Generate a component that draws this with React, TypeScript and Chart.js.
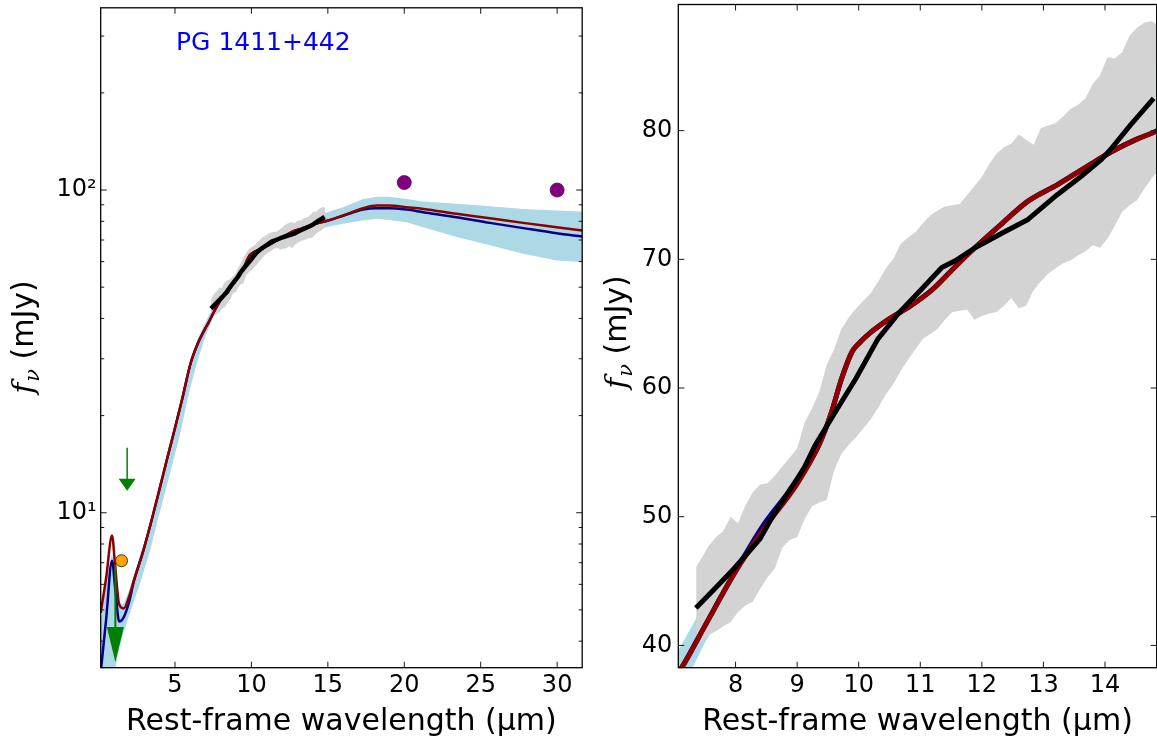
import React, { useEffect, useRef } from 'react';
import { Chart, registerables } from 'chart.js';

Chart.register(...registerables);

const FAMILY = "'DejaVu Sans', 'Liberation Sans', sans-serif";
const SERIF = "'DejaVu Serif', serif";

// ---------------- data ----------------
const objectName = 'PG 1411+442';
const xTitle = 'Rest-frame wavelength (μm)';

// best-fit model (dark red) and alternative model (dark blue)
const modelX = [0.14, 0.5, 0.88, 1.1, 1.35, 1.65, 2.0, 2.3, 2.9, 3.5, 4.0, 4.5, 5.0, 5.5, 6.0, 6.5, 7.0, 7.15, 7.5, 7.98, 8.46, 9.0, 9.35, 9.55, 9.72, 9.89, 10.01, 10.19, 10.49, 10.84, 11.2, 11.5, 11.86, 12.34, 12.75, 13.23, 13.71, 14.12, 14.5, 14.85, 16.0, 17.3, 18.2, 19.0, 20.15, 21.24, 23.42, 25.6, 27.78, 29.96, 31.64];
const modelRed = [4.9, 6.3, 8.5, 6.7, 5.2, 5.05, 5.5, 6.15, 7.55, 9.6, 11.9, 14.8, 18.3, 22.8, 28.8, 33.5, 37.4, 38.47, 41.5, 45.6, 49.07, 52.56, 55.53, 58.0, 60.7, 62.8, 63.5, 64.3, 65.35, 66.38, 67.67, 69.1, 70.78, 72.84, 74.52, 75.81, 77.23, 78.4, 79.3, 80.0, 83.4, 87.8, 89.5, 89.5, 88.4, 87.4, 84.4, 81.8, 79.1, 76.7, 74.9];
const modelBlue = [3.2, 4.7, 7.1, 5.75, 4.6, 4.75, 5.3, 6.1, 7.55, 9.6, 11.9, 14.8, 18.3, 22.8, 28.8, 33.5, 37.4, 38.47, 41.5, 45.6, 49.4, 52.8, 55.53, 58.0, 60.7, 62.8, 63.5, 64.3, 65.35, 66.38, 67.67, 69.1, 70.78, 72.84, 74.52, 75.81, 77.23, 78.4, 79.3, 80.0, 83.2, 87.0, 87.8, 87.8, 87.0, 85.4, 82.4, 79.1, 76.2, 73.5, 71.8];

// model uncertainty band (light blue)
const bandX = [0.14, 0.5, 0.88, 1.1, 1.36, 1.62, 2.0, 2.3, 2.7, 3.36, 4.0, 4.67, 5.33, 6.0, 6.5, 7.0, 7.5, 8.0, 9.0, 10.0, 11.0, 12.0, 13.0, 14.0, 14.85, 16.0, 17.3, 18.2, 19.0, 20.15, 21.24, 23.42, 25.6, 27.78, 29.96, 31.64];
const bandLow = [3.0, 3.0, 3.1, 3.3, 3.8, 4.23, 4.8, 5.3, 6.0, 7.6, 10.0, 13.2, 17.5, 24.5, 29.8, 35.3, 40.2, 44.0, 50.7, 61.0, 64.5, 68.4, 72.2, 75.0, 76.7, 78.6, 80.5, 81.4, 80.8, 79.5, 76.7, 71.5, 67.4, 63.5, 60.5, 59.8];
const bandHigh = [4.6, 6.2, 7.5, 6.6, 5.3, 5.2, 5.75, 6.35, 7.35, 9.2, 12.3, 16.2, 22.0, 29.8, 34.8, 39.0, 43.3, 47.6, 55.0, 66.2, 70.5, 74.6, 78.8, 82.5, 85.0, 88.4, 93.8, 95.4, 95.4, 93.8, 92.1, 90.6, 89.1, 87.4, 86.4, 85.8];

// IRS spectrum uncertainty (grey)
const grayX = [7.36, 7.45, 7.56, 7.68, 7.8, 7.92, 8.04, 8.16, 8.28, 8.4, 8.52, 8.64, 8.76, 8.88, 9.0, 9.12, 9.24, 9.36, 9.48, 9.6, 9.72, 9.84, 9.96, 10.08, 10.2, 10.32, 10.44, 10.56, 10.68, 10.8, 10.92, 11.04, 11.16, 11.28, 11.4, 11.52, 11.64, 11.76, 11.88, 12.0, 12.12, 12.24, 12.36, 12.48, 12.6, 12.72, 12.84, 12.96, 13.08, 13.2, 13.32, 13.44, 13.56, 13.68, 13.8, 13.92, 14.04, 14.16, 14.28, 14.4, 14.52, 14.64, 14.76, 14.83];
const grayHigh = [46.1, 46.8, 47.7, 48.4, 48.9, 50.0, 49.5, 50.9, 51.9, 52.5, 52.6, 53.2, 53.9, 54.6, 55.3, 57.3, 58.4, 59.7, 61.8, 63.0, 64.6, 65.5, 66.2, 66.8, 67.4, 68.3, 69.3, 70.0, 71.2, 71.7, 72.1, 72.8, 73.4, 73.8, 74.1, 74.2, 74.3, 75.0, 75.7, 76.4, 77.4, 78.2, 78.7, 79.0, 79.7, 79.3, 78.9, 80.2, 80.4, 80.6, 81.1, 81.7, 82.0, 82.5, 83.6, 84.3, 85.7, 85.6, 86.1, 87.4, 88.0, 88.4, 88.5, 88.3];
const grayLow = [40.7, 40.3, 40.8, 41.1, 41.5, 41.8, 42.6, 43.1, 43.4, 44.4, 45.3, 46.0, 47.6, 48.2, 48.4, 49.8, 50.8, 51.1, 51.3, 53.6, 54.9, 55.6, 56.2, 56.9, 57.6, 58.5, 59.5, 60.3, 61.3, 62.2, 63.0, 63.8, 64.2, 64.6, 65.3, 65.9, 66.0, 66.1, 65.3, 65.6, 65.8, 65.9, 66.4, 67.0, 66.2, 66.4, 67.6, 68.3, 68.9, 69.3, 69.7, 69.9, 70.3, 70.6, 71.1, 70.9, 71.6, 72.6, 73.7, 74.2, 74.6, 75.5, 76.3, 76.7];

// IRS spectrum (black)
const specX = [7.355, 7.5, 7.74, 7.98, 8.2, 8.4, 8.58, 8.8, 9.0, 9.12, 9.29, 9.47, 9.65, 9.95, 10.31, 10.66, 11.02, 11.35, 11.56, 11.89, 12.34, 12.75, 13.23, 13.6, 13.94, 14.09, 14.42, 14.79];
const specY = [42.9, 43.6, 44.8, 46.0, 47.2, 48.3, 49.84, 51.5, 52.95, 53.85, 55.53, 56.95, 58.37, 60.7, 63.8, 65.87, 67.67, 69.36, 69.87, 70.9, 72.07, 73.1, 75.04, 76.4, 77.75, 78.53, 80.47, 82.5];

// photometry
const farIrX = [20, 30];
const farIrY = [105.5, 100];
const nirX = [1.5];
const nirY = [7.1];
// upper limits (arrows)
const limX = [1.1, 1.87];
const limFrom = [6.9, 15.9];
const limTo = [3.45, 11.7];

// axes
const leftXRange = [0.14, 31.64];
const leftYRange = [3.31, 367];
const rightXRange = [7.07, 14.84];
const rightYRange = [38.27, 89.8];
const leftXTicks = [5, 10, 15, 20, 25, 30];
const rightXTicks = [8, 9, 10, 11, 12, 13, 14];
const leftYTicks = [4, 5, 6, 7, 8, 9, 10, 20, 30, 40, 50, 60, 70, 80, 90, 100, 200, 300];
const rightYTicks = [40, 50, 60, 70, 80];

// ---------------- style ----------------
const COL = {
  band: '#ADD8E6',
  gray: '#D3D3D3',
  blue: '#00008B',
  red: '#8B0000',
  black: '#000000',
  purple: '#800080',
  orange: '#FFA500',
  green: '#008000',
  name: '#0000FF',
};
const ARROW_HEAD_LEN = [35, 12];
const ARROW_HEAD_W = [17, 17];
const ARROW_STEM_W = [2, 1.5];
const MAJOR_TICK = 6;
const MINOR_TICK = 3.5;

const pts = (xs: number[], ys: number[]) => xs.map((x, i) => ({ x, y: ys[i] }));

function makeDatasets(modelW: number, specW: number, markers: boolean) {
  const ds: any[] = [
    { data: pts(bandX, bandLow), borderColor: 'transparent', borderWidth: 0, pointRadius: 0, fill: false, order: 10 },
    { data: pts(bandX, bandHigh), borderColor: 'transparent', borderWidth: 0, pointRadius: 0, fill: '-1', backgroundColor: COL.band, order: 9 },
    { data: pts(grayX, grayLow), borderColor: 'transparent', borderWidth: 0, pointRadius: 0, fill: false, order: 8 },
    { data: pts(grayX, grayHigh), borderColor: 'transparent', borderWidth: 0, pointRadius: 0, fill: '-1', backgroundColor: COL.gray, order: 7 },
    { data: pts(modelX, modelBlue), borderColor: COL.blue, borderWidth: modelW, pointRadius: 0, fill: false, order: 6, borderJoinStyle: 'round', cubicInterpolationMode: 'monotone' },
    { data: pts(modelX, modelRed), borderColor: COL.red, borderWidth: modelW, pointRadius: 0, fill: false, order: 5, borderJoinStyle: 'round', cubicInterpolationMode: 'monotone' },
    { data: pts(specX, specY), borderColor: COL.black, borderWidth: specW, pointRadius: 0, fill: false, order: 4, borderJoinStyle: 'round' },
  ];
  if (markers) {
    ds.push({ data: pts(farIrX, farIrY), showLine: false, pointRadius: 7, pointBackgroundColor: COL.purple, pointBorderColor: '#5a005a', pointBorderWidth: 0.8, order: 2 });
    ds.push({ data: pts(nirX, nirY), showLine: false, pointRadius: 6, pointBackgroundColor: COL.orange, pointBorderColor: '#333', pointBorderWidth: 1, order: 1 });
  }
  return ds;
}

const framePlugin = {
  id: 'frame',
  afterDraw(chart: any, _a: any, opts: any) {
    const { ctx, chartArea: a } = chart;
    const xs = chart.scales.x;
    const ys = chart.scales.y;
    ctx.save();
    ctx.strokeStyle = '#1a1a1a';
    ctx.lineWidth = 1;
    ctx.beginPath();
    for (const t of xs.ticks) {
      const p = xs.getPixelForValue(t.value);
      ctx.moveTo(p, a.bottom);
      ctx.lineTo(p, a.bottom - MAJOR_TICK);
      ctx.moveTo(p, a.top);
      ctx.lineTo(p, a.top + MAJOR_TICK);
    }
    for (const t of ys.ticks) {
      const p = ys.getPixelForValue(t.value);
      const lg = Math.log10(t.value);
      const major = !opts.log || Math.abs(lg - Math.round(lg)) < 1e-6;
      const len = major ? MAJOR_TICK : MINOR_TICK;
      ctx.moveTo(a.left, p);
      ctx.lineTo(a.left + len, p);
      ctx.moveTo(a.right, p);
      ctx.lineTo(a.right - len, p);
    }
    ctx.stroke();
    ctx.lineWidth = 1.3;
    ctx.strokeStyle = '#000';
    ctx.strokeRect(a.left, a.top, a.right - a.left, a.bottom - a.top);
    ctx.restore();
  },
};

const yTitlePlugin = {
  id: 'yTitle',
  afterDraw(chart: any, _a: any, opts: any) {
    const { ctx } = chart;
    ctx.save();
    ctx.translate(opts.x, opts.y);
    ctx.rotate(-Math.PI / 2);
    ctx.fillStyle = '#000';
    ctx.textBaseline = 'alphabetic';
    ctx.textAlign = 'left';
    const fFont = `italic 30px ${SERIF}`;
    const nuFont = `italic 21px ${SERIF}`;
    const restFont = `30px ${FAMILY}`;
    ctx.font = fFont;
    const wf = ctx.measureText('f').width;
    ctx.font = nuFont;
    const wn = ctx.measureText('ν').width;
    ctx.font = restFont;
    const wr = ctx.measureText(' (mJy)').width;
    const total = wf + 1 + wn + wr;
    let cx = -total / 2;
    ctx.font = fFont;
    ctx.fillText('f', cx, 0);
    cx += wf + 1;
    ctx.font = nuFont;
    ctx.fillText('ν', cx, 6);
    cx += wn;
    ctx.font = restFont;
    ctx.fillText(' (mJy)', cx, 0);
    ctx.restore();
  },
};

const namePlugin = {
  id: 'objName',
  afterDraw(chart: any, _a: any, opts: any) {
    if (!opts || !opts.text) return;
    const { ctx, chartArea: a } = chart;
    ctx.save();
    ctx.font = `25px ${FAMILY}`;
    ctx.fillStyle = COL.name;
    ctx.textBaseline = 'alphabetic';
    ctx.textAlign = 'left';
    ctx.fillText(opts.text, a.left + 75.3, a.top + 42.2);
    ctx.restore();
  },
};

const limitsPlugin = {
  id: 'limits',
  afterDatasetsDraw(chart: any, _a: any, opts: any) {
    if (!opts || !opts.show) return;
    const { ctx, chartArea: a } = chart;
    const xs = chart.scales.x;
    const ys = chart.scales.y;
    ctx.save();
    ctx.beginPath();
    ctx.rect(a.left, a.top, a.right - a.left, a.bottom - a.top);
    ctx.clip();
    limX.forEach((lx, i) => {
      const px = xs.getPixelForValue(lx);
      const pTop = ys.getPixelForValue(limFrom[i]);
      const pTip = ys.getPixelForValue(limTo[i]);
      const hl = ARROW_HEAD_LEN[i];
      const hw = ARROW_HEAD_W[i];
      ctx.strokeStyle = COL.green;
      ctx.lineWidth = ARROW_STEM_W[i];
      ctx.beginPath();
      ctx.moveTo(px, pTop);
      ctx.lineTo(px, pTip - hl + 1);
      ctx.stroke();
      ctx.fillStyle = COL.green;
      ctx.beginPath();
      ctx.moveTo(px - hw / 2, pTip - hl);
      ctx.lineTo(px + hw / 2, pTip - hl);
      ctx.lineTo(px, pTip);
      ctx.closePath();
      ctx.fill();
    });
    ctx.restore();
  },
};

function axisX(range: number[], ticks: number[], height: number) {
  return {
    type: 'linear',
    min: range[0],
    max: range[1],
    grid: { display: false, drawTicks: false },
    border: { display: false },
    afterBuildTicks: (s: any) => {
      s.ticks = ticks.map((v) => ({ value: v }));
    },
    afterFit: (s: any) => {
      s.height = height;
      s.paddingLeft = 0;
      s.paddingRight = 0;
    },
    ticks: {
      autoSkip: false,
      maxRotation: 0,
      padding: 4,
      color: '#000',
      font: { size: 24, family: FAMILY },
    },
    title: {
      display: true,
      text: xTitle,
      color: '#000',
      font: { size: 30, family: FAMILY },
      padding: { top: 0, bottom: 4 },
    },
  };
}

function baseOptions(padRight: number, yScale: any, xScale: any, plugins: any) {
  return {
    responsive: false,
    maintainAspectRatio: false,
    animation: false,
    devicePixelRatio: 1,
    events: [],
    layout: { padding: { left: 0, right: padRight, top: 4.5, bottom: 0 } },
    scales: { x: xScale, y: yScale },
    plugins: {
      legend: { display: false },
      tooltip: { enabled: false },
      ...plugins,
    },
  };
}

function leftConfig(): any {
  const y = {
    type: 'logarithmic',
    min: leftYRange[0],
    max: leftYRange[1],
    grid: { display: false, drawTicks: false },
    border: { display: false },
    afterBuildTicks: (s: any) => {
      s.ticks = leftYTicks.map((v) => ({ value: v }));
    },
    afterFit: (s: any) => {
      s.width = 100.7;
      s.paddingTop = 0;
      s.paddingBottom = 0;
    },
    ticks: {
      autoSkip: false,
      padding: 4,
      color: '#000',
      font: { size: 24, family: FAMILY },
      callback: (v: number) => (v === 10 ? '10¹' : v === 100 ? '10²' : ''),
    },
  };
  return {
    type: 'line',
    data: { datasets: makeDatasets(2.5, 4.5, true) },
    options: baseOptions(590 - 582.3, y, axisX(leftXRange, leftXTicks, 744 - 667.7), {
      frame: { log: true },
      yTitle: { x: 33.4, y: 337 },
      objName: { text: objectName },
      limits: { show: true },
    }),
    plugins: [framePlugin, yTitlePlugin, namePlugin, limitsPlugin],
  };
}

function rightConfig(): any {
  const y = {
    type: 'linear',
    min: rightYRange[0],
    max: rightYRange[1],
    grid: { display: false, drawTicks: false },
    border: { display: false },
    afterBuildTicks: (s: any) => {
      s.ticks = rightYTicks.map((v) => ({ value: v }));
    },
    afterFit: (s: any) => {
      s.width = 88.3;
      s.paddingTop = 0;
      s.paddingBottom = 0;
    },
    ticks: {
      autoSkip: false,
      padding: 6,
      color: '#000',
      font: { size: 24, family: FAMILY },
      callback: (v: number) => String(v),
    },
  };
  return {
    type: 'line',
    data: { datasets: makeDatasets(5, 5, false) },
    options: baseOptions(0.3, y, axisX(rightXRange, rightXTicks, 744 - 667.7), {
      frame: { log: false },
      yTitle: { x: 36, y: 332 },
      objName: { text: '' },
      limits: { show: false },
    }),
    plugins: [framePlugin, yTitlePlugin, namePlugin, limitsPlugin],
  };
}

export default function App() {
  const leftRef = useRef<HTMLCanvasElement>(null);
  const rightRef = useRef<HTMLCanvasElement>(null);
  useEffect(() => {
    const left = new Chart(leftRef.current as HTMLCanvasElement, leftConfig());
    const right = new Chart(rightRef.current as HTMLCanvasElement, rightConfig());
    return () => {
      left.destroy();
      right.destroy();
    };
  }, []);
  return (
    <div style={{ position: 'absolute', left: 0, top: 0, width: 1157, height: 744, background: '#fff', overflow: 'hidden' }}>
      <canvas ref={leftRef} width={590} height={744} style={{ position: 'absolute', left: 0, top: 0, width: 590, height: 744 }} />
      <canvas ref={rightRef} width={567} height={744} style={{ position: 'absolute', left: 590, top: 0, width: 567, height: 744 }} />
    </div>
  );
}
